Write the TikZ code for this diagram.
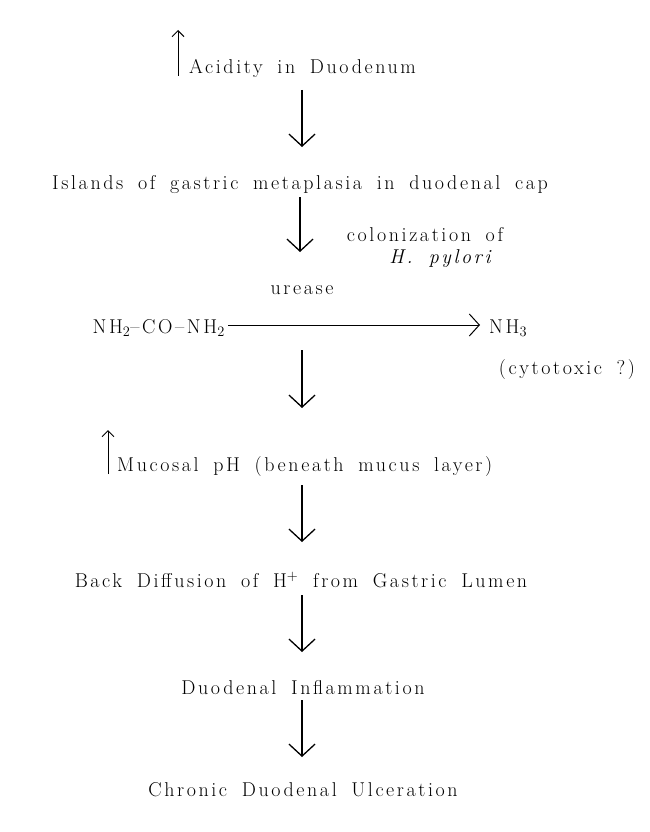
\documentclass[tikz,border=0pt]{standalone}
\usepackage{fontspec}
\setmainfont{Latin Modern Roman}[LetterSpace=13,WordSpace={1.7,1,1}]
\usetikzlibrary{arrows.meta}
\begin{document}
\begin{tikzpicture}[x=1pt,y=-1pt,
  lbl/.style={inner sep=1pt,font=\fontsize{20}{23}\selectfont},
  down/.style={line width=1.3pt,-{Straight Barb[length=12pt,width=26pt,line width=1.3pt]}},
  up/.style={line width=1pt,-{Straight Barb[length=6pt,width=12pt]}}]
\useasboundingbox (0,0) rectangle (650,832);
\node[lbl,anchor=west] (acid) at (188,68) {Acidity in Duodenum};
\coordinate (u1a) at (178,76); \coordinate (u1b) at (178,30);
\draw[up] (u1a) -- (u1b);
\node[lbl] (isl) at (300,185) {Islands of gastric metaplasia in duodenal cap};
\coordinate (a1a) at (302,90); \coordinate (a1b) at (302,147);
\draw[down] (a1a) -- (a1b);
\coordinate (a2a) at (300,197); \coordinate (a2b) at (300,252);
\draw[down] (a2a) -- (a2b);
\node[lbl] (col) at (425,235) {colonization of};
\node[lbl] (hp) at (440,259) {\itshape H. pylori};
\node[lbl] (ure) at (302,290) {urease};
\node[lbl,anchor=east] (urea) at (226,328) {NH$_2$--CO--NH$_2$};
\node[lbl,anchor=west] (nh3) at (488,328) {NH$_3$};
\node[lbl] (cyt) at (567,370) {(cytotoxic ?)};
\draw[line width=1pt,-{Straight Barb[length=10pt,width=22pt,line width=1pt]}] (urea.east) ++(2,-3) coordinate (h0) -- (480,325) coordinate (h1);
\coordinate (a3a) at (302,350); \coordinate (a3b) at (302,408);
\draw[down] (a3a) -- (a3b);
\node[lbl,anchor=west] (muc) at (116,467) {Mucosal pH (beneath mucus layer)};
\coordinate (u2a) at (108,474); \coordinate (u2b) at (108,430);
\draw[up] (u2a) -- (u2b);
\coordinate (a4a) at (302,485); \coordinate (a4b) at (302,542);
\draw[down] (a4a) -- (a4b);
\node[lbl] (back) at (301,580) {Back Diffusion of H$^+$ from Gastric Lumen};
\coordinate (a5a) at (302,595); \coordinate (a5b) at (302,652);
\draw[down] (a5a) -- (a5b);
\node[lbl] (infl) at (303,688) {Duodenal Inflammation};
\coordinate (a6a) at (302,700); \coordinate (a6b) at (302,757);
\draw[down] (a6a) -- (a6b);
\node[lbl] (ulc) at (303,790) {Chronic Duodenal Ulceration};
\end{tikzpicture}
\end{document}
